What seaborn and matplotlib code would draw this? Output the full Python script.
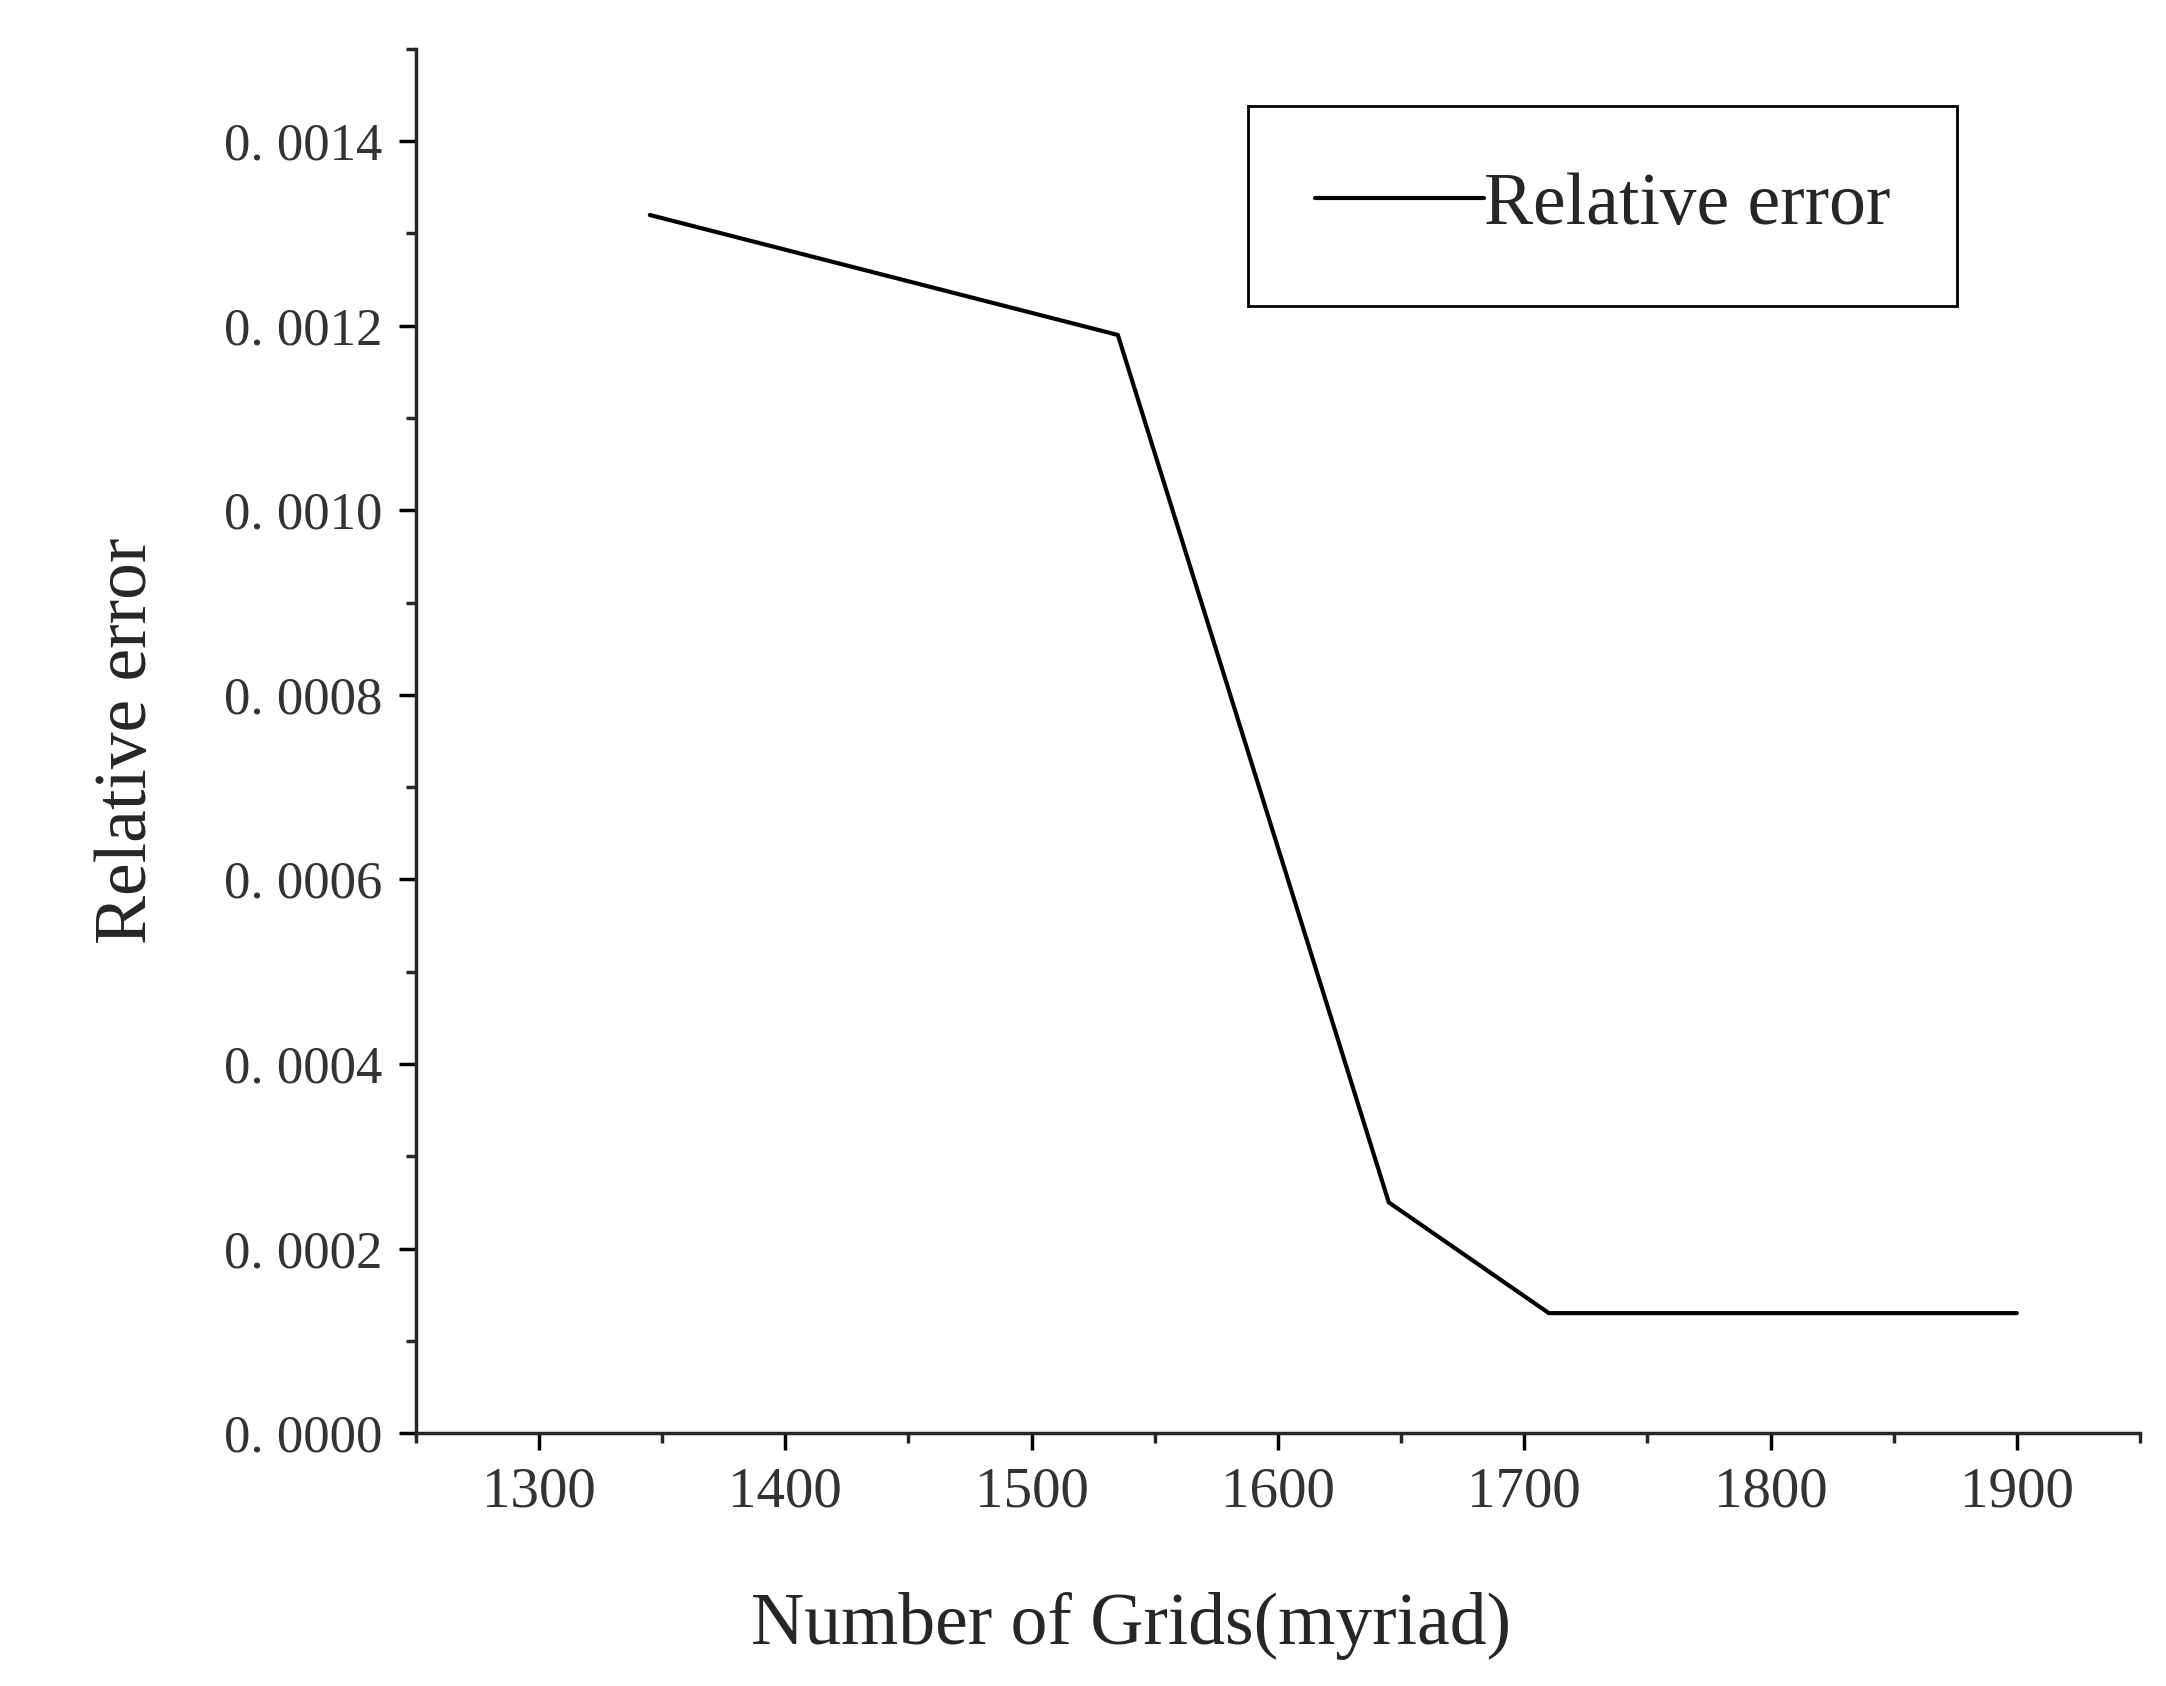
import matplotlib
matplotlib.use("Agg")
import matplotlib.pyplot as plt
import seaborn as sns
from matplotlib.ticker import MultipleLocator, FuncFormatter

grids = [1345, 1535, 1645, 1710, 1900]
rel_error = [0.00132, 0.00119, 0.00025, 0.00013, 0.00013]

sns.set_theme(style="ticks")
plt.rcParams['font.family'] = ['Liberation Serif', 'DejaVu Serif']

fig, ax = plt.subplots(figsize=(21.66, 16.86), dpi=100)
fig.subplots_adjust(left=0.192, right=0.988, top=0.971, bottom=0.150)

sns.lineplot(x=grids, y=rel_error, color="black", linewidth=3, ax=ax, label="Relative error")

ax.set_xlim(1250, 1950)
ax.set_ylim(0, 0.0015)
ax.xaxis.set_major_locator(MultipleLocator(100))
ax.xaxis.set_minor_locator(MultipleLocator(50))
ax.yaxis.set_major_locator(MultipleLocator(0.0002))
ax.yaxis.set_minor_locator(MultipleLocator(0.0001))
ax.yaxis.set_major_formatter(FuncFormatter(lambda v, p: f"{v:.4f}".replace(".", ". ")))

for s in ["top", "right"]:
    ax.spines[s].set_visible(False)
for s in ["left", "bottom"]:
    ax.spines[s].set_linewidth(2.5)
ax.tick_params(which="major", length=12, width=2.5, colors="black", labelcolor="#333333", pad=12)
ax.tick_params(axis="x", labelsize=41)
ax.tick_params(axis="y", labelsize=38)
ax.tick_params(which="minor", length=7, width=2.5)

ax.set_xlabel("Number of Grids(myriad)", fontsize=53)
ax.xaxis.set_label_coords(0.415, -0.115)
ax.set_ylabel("Relative error", fontsize=53, labelpad=45)

leg = ax.legend(loc="upper right", bbox_to_anchor=(0.915, 0.985), fontsize=53, fancybox=False,
                edgecolor="black", framealpha=1, handlelength=2.3, handletextpad=0.0,
                borderpad=0.9)
leg.get_frame().set_linewidth(2)

fig.savefig("out.png", dpi=100)
